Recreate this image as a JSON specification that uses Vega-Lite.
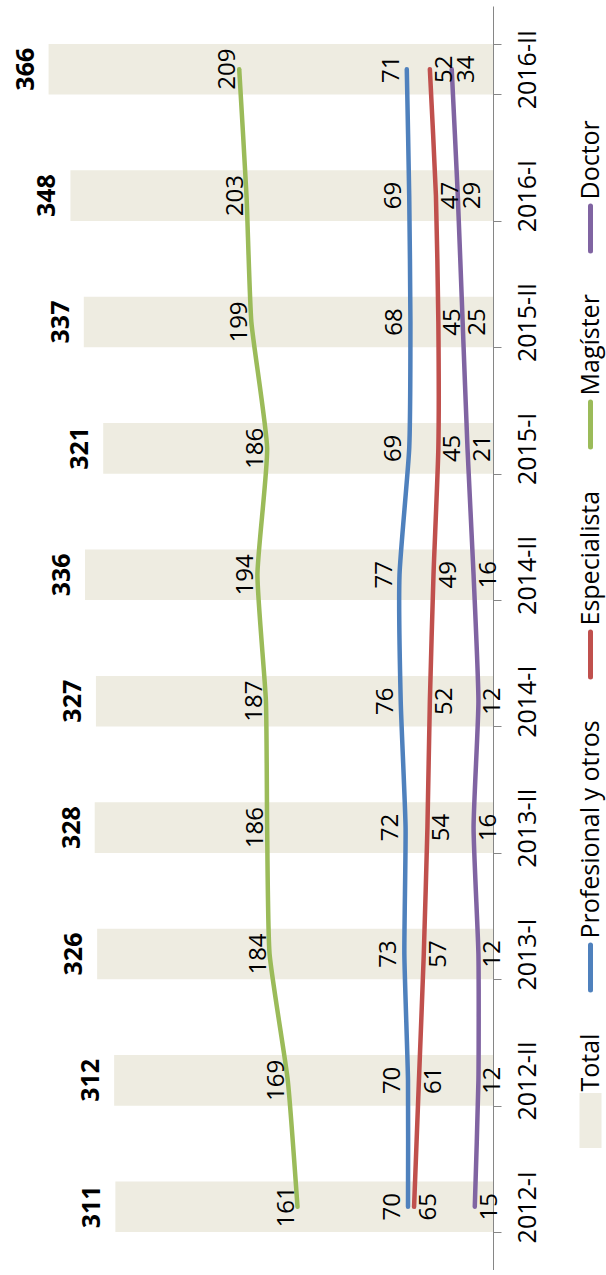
{
  "$schema": "https://vega.github.io/schema/vega-lite/v6.json",
  "width": 493,
  "height": 1264,
  "padding": {"left": 0, "top": 5, "right": 0, "bottom": 0},
  "background": "white",
  "config": {"view": {"stroke": null}, "font": "Open Sans"},
  "datasets": {
    "totales": [
      {"periodo": "2012-I", "total": 311},
      {"periodo": "2012-II", "total": 312},
      {"periodo": "2013-I", "total": 326},
      {"periodo": "2013-II", "total": 328},
      {"periodo": "2014-I", "total": 327},
      {"periodo": "2014-II", "total": 336},
      {"periodo": "2015-I", "total": 321},
      {"periodo": "2015-II", "total": 337},
      {"periodo": "2016-I", "total": 348},
      {"periodo": "2016-II", "total": 366}
    ],
    "series": [
      {"periodo": "2012-I", "serie": "Profesional y otros", "valor": 70},
      {"periodo": "2012-II", "serie": "Profesional y otros", "valor": 70},
      {"periodo": "2013-I", "serie": "Profesional y otros", "valor": 73},
      {"periodo": "2013-II", "serie": "Profesional y otros", "valor": 72},
      {"periodo": "2014-I", "serie": "Profesional y otros", "valor": 76},
      {"periodo": "2014-II", "serie": "Profesional y otros", "valor": 77},
      {"periodo": "2015-I", "serie": "Profesional y otros", "valor": 69},
      {"periodo": "2015-II", "serie": "Profesional y otros", "valor": 68},
      {"periodo": "2016-I", "serie": "Profesional y otros", "valor": 69},
      {"periodo": "2016-II", "serie": "Profesional y otros", "valor": 71},
      {"periodo": "2012-I", "serie": "Especialista", "valor": 65},
      {"periodo": "2012-II", "serie": "Especialista", "valor": 61},
      {"periodo": "2013-I", "serie": "Especialista", "valor": 57},
      {"periodo": "2013-II", "serie": "Especialista", "valor": 54},
      {"periodo": "2014-I", "serie": "Especialista", "valor": 52},
      {"periodo": "2014-II", "serie": "Especialista", "valor": 49},
      {"periodo": "2015-I", "serie": "Especialista", "valor": 45},
      {"periodo": "2015-II", "serie": "Especialista", "valor": 45},
      {"periodo": "2016-I", "serie": "Especialista", "valor": 47},
      {"periodo": "2016-II", "serie": "Especialista", "valor": 52},
      {"periodo": "2012-I", "serie": "Magíster", "valor": 161},
      {"periodo": "2012-II", "serie": "Magíster", "valor": 169},
      {"periodo": "2013-I", "serie": "Magíster", "valor": 184},
      {"periodo": "2013-II", "serie": "Magíster", "valor": 186},
      {"periodo": "2014-I", "serie": "Magíster", "valor": 187},
      {"periodo": "2014-II", "serie": "Magíster", "valor": 194},
      {"periodo": "2015-I", "serie": "Magíster", "valor": 186},
      {"periodo": "2015-II", "serie": "Magíster", "valor": 199},
      {"periodo": "2016-I", "serie": "Magíster", "valor": 203},
      {"periodo": "2016-II", "serie": "Magíster", "valor": 209},
      {"periodo": "2012-I", "serie": "Doctor", "valor": 15},
      {"periodo": "2012-II", "serie": "Doctor", "valor": 12},
      {"periodo": "2013-I", "serie": "Doctor", "valor": 12},
      {"periodo": "2013-II", "serie": "Doctor", "valor": 16},
      {"periodo": "2014-I", "serie": "Doctor", "valor": 12},
      {"periodo": "2014-II", "serie": "Doctor", "valor": 16},
      {"periodo": "2015-I", "serie": "Doctor", "valor": 21},
      {"periodo": "2015-II", "serie": "Doctor", "valor": 25},
      {"periodo": "2016-I", "serie": "Doctor", "valor": 29},
      {"periodo": "2016-II", "serie": "Doctor", "valor": 34}
    ]
  },
  "encoding": {
    "y": {
      "field": "periodo",
      "type": "ordinal",
      "scale": {
        "domain": ["2016-II", "2016-I", "2015-II", "2015-I", "2014-II", "2014-I", "2013-II", "2013-I", "2012-II", "2012-I"],
        "paddingInner": 0.6,
        "paddingOuter": 0.3
      },
      "axis": {
        "orient": "right",
        "title": null,
        "labelAngle": 270,
        "labelAlign": "center",
        "labelBaseline": "top",
        "labelFont": "Open Sans",
        "labelFontSize": 25,
        "labelColor": "#000000",
        "labelPadding": 14,
        "tickBand": "extent",
        "tickSize": 8,
        "tickColor": "#868686",
        "domainColor": "#868686",
        "domainWidth": 1,
        "grid": false
      }
    }
  },
  "layer": [
    {
      "data": {"name": "totales"},
      "mark": {"type": "bar"},
      "encoding": {
        "x": {"field": "total", "type": "quantitative", "scale": {"domain": [0, 406], "reverse": true, "nice": false, "zero": true}, "axis": null},
        "color": {"datum": "Total", "type": "nominal"}
      }
    },
    {
      "data": {"name": "totales"},
      "mark": {"type": "text", "angle": 270, "align": "center", "baseline": "alphabetic", "dy": -15, "font": "Open Sans", "fontSize": 25, "fontWeight": "bold", "color": "#000000"},
      "encoding": {
        "x": {"field": "total", "type": "quantitative"},
        "text": {"field": "total", "type": "quantitative"}
      }
    },
    {
      "data": {"name": "series"},
      "mark": {"type": "line", "strokeWidth": 4.5, "strokeCap": "round", "interpolate": "cardinal", "tension": 0.5},
      "encoding": {
        "x": {"field": "valor", "type": "quantitative"},
        "order": {"field": "periodo", "type": "ordinal"},
        "color": {
          "field": "serie",
          "type": "nominal",
          "scale": {
            "domain": ["Doctor", "Magíster", "Especialista", "Profesional y otros", "Total"],
            "range": ["#8064A2", "#9BBB59", "#C0504D", "#4F81BD", "#EEECE1"]
          },
          "legend": {
            "orient": "none",
            "legendX": 563,
            "legendY": 195,
            "direction": "vertical",
            "title": null,
            "labelFont": "Open Sans",
            "labelFontSize": 25,
            "labelColor": "#000000",
            "labelLimit": 0,
            "labelOffset": 0,
            "symbolOffset": 0,
            "symbolSize": 2500,
            "symbolStrokeWidth": 5,
            "rowPadding": 33,
            "encoding": {
              "symbols": {
                "shape": {"value": {"expr": "datum.value === 'Total' ? 'M-0.34,-1H0.34V1H-0.34Z' : 'M0,-0.9V0.9'"}},
                "fill": {"value": {"expr": "datum.value === 'Total' ? '#EEECE1' : 'transparent'"}},
                "stroke": {"value": {"expr": "datum.value === 'Total' ? 'transparent' : scale('color', datum.value)"}},
                "strokeWidth": {"value": 5},
                "strokeCap": {"value": "round"},
                "opacity": {"value": 1}
              },
              "labels": {
                "angle": {"value": 270},
                "align": {"value": "left"},
                "baseline": {"value": "middle"},
                "dx": {"value": 29},
                "dy": {"value": -27.5}
              }
            }
          }
        }
      }
    },
    {
      "data": {"name": "series"},
      "transform": [{"filter": "datum.serie === 'Profesional y otros'"}],
      "mark": {"type": "text", "angle": 270, "align": "center", "baseline": "middle", "dy": -15, "font": "Open Sans", "fontSize": 24, "color": "#000000"},
      "encoding": {"x": {"field": "valor", "type": "quantitative"}, "text": {"field": "valor", "type": "quantitative"}}
    },
    {
      "data": {"name": "series"},
      "transform": [{"filter": "datum.serie === 'Especialista'"}],
      "mark": {"type": "text", "angle": 270, "align": "center", "baseline": "middle", "dy": 15, "font": "Open Sans", "fontSize": 24, "color": "#000000"},
      "encoding": {"x": {"field": "valor", "type": "quantitative"}, "text": {"field": "valor", "type": "quantitative"}}
    },
    {
      "data": {"name": "series"},
      "transform": [{"filter": "datum.serie === 'Magíster'"}],
      "mark": {"type": "text", "angle": 270, "align": "center", "baseline": "middle", "dy": -11, "font": "Open Sans", "fontSize": 24, "color": "#000000"},
      "encoding": {"x": {"field": "valor", "type": "quantitative"}, "text": {"field": "valor", "type": "quantitative"}}
    },
    {
      "data": {"name": "series"},
      "transform": [{"filter": "datum.serie === 'Doctor'"}],
      "mark": {"type": "text", "angle": 270, "align": "center", "baseline": "middle", "dy": 15, "font": "Open Sans", "fontSize": 24, "color": "#000000"},
      "encoding": {"x": {"field": "valor", "type": "quantitative"}, "text": {"field": "valor", "type": "quantitative"}}
    }
  ]
}
